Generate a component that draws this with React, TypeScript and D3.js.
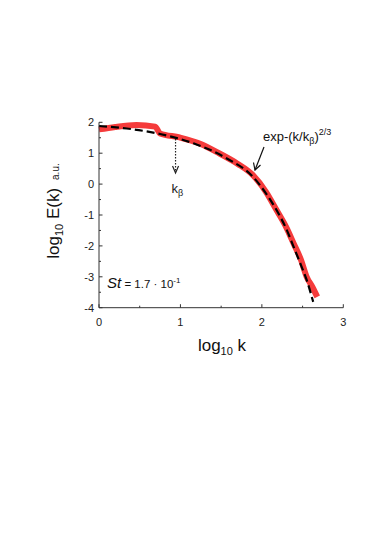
import React from "react";
import * as d3 from "d3";

const W = 374;
const H = 536;

// red: measured spectrum (log10 k, log10 E)
const redK = [0, 0.2, 0.46, 0.69, 0.75, 0.99, 1.25, 1.48, 1.7, 1.89, 2.05, 2.18, 2.3, 2.39, 2.48, 2.55, 2.62, 2.68];
const redE = [1.77, 1.85, 1.91, 1.86, 1.64, 1.51, 1.3, 0.99, 0.66, 0.29, -0.25, -0.84, -1.4, -1.92, -2.45, -3.0, -3.33, -3.65];

// dashed: exp fit
const fitK = [0, 0.34, 0.75, 1.16, 1.57, 1.89, 2.05, 2.18, 2.3, 2.39, 2.48, 2.55, 2.63];
const fitE = [1.88, 1.8, 1.62, 1.32, 0.83, 0.24, -0.3, -0.84, -1.45, -2.03, -2.62, -3.1, -3.81];

const xTicks = [0, 1, 2, 3];
const yTicks = [-4, -3, -2, -1, 0, 1, 2];

const x = d3.scaleLinear().domain([0, 3]).range([99, 343.3]);
const y = d3.scaleLinear().domain([-4, 2]).range([307.7, 122.3]);

const line = d3
  .line<[number, number]>()
  .x((d) => x(d[0]))
  .y((d) => y(d[1]))
  .curve(d3.curveMonotoneX);

const font = "Arial, 'Liberation Sans', sans-serif";

export default function App() {
  const redPts = redK.map((k, i) => [k, redE[i]] as [number, number]);
  const fitPts = fitK.map((k, i) => [k, fitE[i]] as [number, number]);
  const xMinor = d3.range(0, 3.01, 0.5);
  const yMinor = d3.range(-4, 2.01, 0.5);
  const kb = x(0.94);

  return (
    <svg width={W} height={H} style={{ position: "absolute", left: 0, top: 0 }} fontFamily={font}>
      <rect width={W} height={H} fill="#fff" />
      <path d={line(redPts) || ""} fill="none" stroke="#f53b3b" strokeWidth={6} strokeLinejoin="round" />
      <path d={line(fitPts) || ""} fill="none" stroke="#000" strokeWidth={2.2} strokeDasharray="8,4" />

      {/* axes */}
      <line x1={x(0)} x2={x(0)} y1={y(-4)} y2={y(2)} stroke="#333" strokeWidth={1} />
      <line x1={x(0)} x2={x(3)} y1={y(-4)} y2={y(-4)} stroke="#333" strokeWidth={1} />
      {yMinor.map((v) => (
        <line key={"ym" + v} x1={x(0)} x2={x(0) + (Number.isInteger(v) ? 3.5 : 2)} y1={y(v)} y2={y(v)} stroke="#333" />
      ))}
      {xMinor.map((v) => (
        <line key={"xm" + v} x1={x(v)} x2={x(v)} y1={y(-4)} y2={y(-4) - (Number.isInteger(v) ? 3.5 : 2)} stroke="#333" />
      ))}
      {yTicks.map((v) => (
        <text key={"yt" + v} x={x(0) - 5} y={y(v) + 4} fontSize={11} textAnchor="end" fill="#222">
          {v}
        </text>
      ))}
      {xTicks.map((v) => (
        <text key={"xt" + v} x={x(v)} y={y(-4) + 18} fontSize={11} textAnchor="middle" fill="#222">
          {v}
        </text>
      ))}

      {/* axis titles */}
      <text x={222} y={351} fontSize={17} textAnchor="middle" fill="#111">
        log<tspan fontSize={11} dy={4}>10</tspan>
        <tspan dy={-4}> k</tspan>
      </text>
      <text transform="translate(59,211) rotate(-90)" fontSize={17} textAnchor="middle" fill="#111">
        log<tspan fontSize={11} dy={4}>10</tspan>
        <tspan dy={-4}> E(k)</tspan>
        <tspan fontSize={10} dx={8}>a.u.</tspan>
      </text>

      {/* k_beta marker */}
      <line x1={kb} x2={kb} y1={139} y2={171} stroke="#222" strokeWidth={1.2} strokeDasharray="1.5,1.5" />
      <path d={`M${kb - 3},${166} L${kb},${173} L${kb + 3},${166}`} fill="none" stroke="#222" strokeWidth={1.2} />
      <text x={kb - 4} y={193} fontSize={13} fill="#222">
        k<tspan fontSize={9} dy={3}>β</tspan>
      </text>

      {/* fit annotation */}
      <text x={263} y={141} fontSize={13} fill="#111">
        exp-(k/k<tspan fontSize={9} dy={3}>β</tspan>
        <tspan dy={-3}>)</tspan>
        <tspan fontSize={9} dy={-6}>2/3</tspan>
      </text>
      <line x1={264} y1={147} x2={255} y2={170} stroke="#111" strokeWidth={1.2} />
      <path d="M253.5,162.5 L255,170 L260.5,165" fill="none" stroke="#111" strokeWidth={1.2} />

      <text x={107} y={288} fontSize={15} fill="#111">
        <tspan fontStyle="italic">St</tspan>
        <tspan fontSize={11.5}> = 1.7 · 10</tspan>
        <tspan fontSize={8} dy={-5}>-1</tspan>
      </text>
    </svg>
  );
}
